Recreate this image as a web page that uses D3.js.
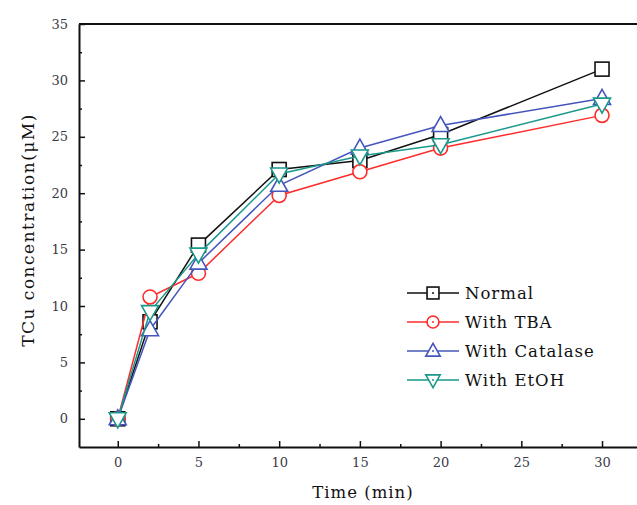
<!DOCTYPE html>
<html>
<head>
<meta charset="utf-8">
<script src="https://cdn.jsdelivr.net/npm/d3@7"></script>
<style>
  html, body { margin: 0; padding: 0; background: #fff; }
  svg { display: block; }
  text { font-family: "DejaVu Serif", "Liberation Serif", serif; }
</style>
</head>
<body>
<svg id="chart" width="637" height="505"></svg>
<script>
// Sampling times (min)
const times = [0, 2, 5, 10, 15, 20, 30];

// TCu concentration (µM) for each condition
const normal   = [0, 8.6, 15.4, 22.1, 22.9, 25.2, 31.0];
const withTBA  = [0, 10.8, 12.9, 19.8, 21.9, 24.0, 26.9];
const withCat  = [0, 7.9, 13.8, 20.7, 24.0, 26.0, 28.4];
const withEtOH = [0, 9.5, 14.6, 21.7, 23.3, 24.3, 27.9];

const seriesNames  = ["Normal", "With TBA", "With Catalase", "With EtOH"];
const seriesColors = ["#111111", "#ff2b2b", "#4456bb", "#1a988a"];
const seriesShapes = ["square", "circle", "triUp", "triDown"];
const seriesValues = [normal, withTBA, withCat, withEtOH];

const xTicks = [0, 5, 10, 15, 20, 25, 30];
const yTicks = [0, 5, 10, 15, 20, 25, 30, 35];

const svg = d3.select("#chart");

const x = d3.scaleLinear().domain([-2.4, 32.6]).range([79, 644]);
const y = d3.scaleLinear().domain([-2.5, 35]).range([447, 24]);

// Frame: top and right edges
svg.append("line").attr("x1", x.range()[0]).attr("x2", x.range()[1])
  .attr("y1", y(35)).attr("y2", y(35)).attr("stroke", "#111").attr("stroke-width", 2);
svg.append("line").attr("x1", x.range()[1]).attr("x2", x.range()[1])
  .attr("y1", y(35)).attr("y2", y(-2.5)).attr("stroke", "#111").attr("stroke-width", 2);

// Bottom axis with inward ticks
const xAxis = svg.append("g").attr("transform", `translate(0,${y(-2.5)})`)
  .call(d3.axisBottom(x).tickValues(xTicks).tickSizeInner(-6).tickSizeOuter(0).tickPadding(11));
// minor ticks
svg.append("g").attr("transform", `translate(0,${y(-2.5)})`)
  .call(d3.axisBottom(x).tickValues([2.5, 7.5, 12.5, 17.5, 22.5, 27.5]).tickSizeInner(-3).tickSizeOuter(0).tickFormat(""))
  .call(g => g.select(".domain").remove());

const yAxis = svg.append("g").attr("transform", `translate(${x(-2.4)},0)`)
  .call(d3.axisLeft(y).tickValues(yTicks).tickSizeInner(-6).tickSizeOuter(0).tickPadding(11));
svg.append("g").attr("transform", `translate(${x(-2.4)},0)`)
  .call(d3.axisLeft(y).tickValues([2.5, 7.5, 12.5, 17.5, 22.5, 27.5, 32.5]).tickSizeInner(-3).tickSizeOuter(0).tickFormat(""))
  .call(g => g.select(".domain").remove());

[xAxis, yAxis].forEach(g => {
  g.attr("font-size", 13).attr("font-family", "'DejaVu Serif', serif");
  g.select(".domain").attr("stroke", "#111").attr("stroke-width", 2);
  g.selectAll(".tick text").attr("fill", "#3a3a48");
});
svg.selectAll("g .tick line").attr("stroke", "#111").attr("stroke-width", 1.5);

// Axis titles
svg.append("text").attr("x", 363).attr("y", 498).attr("text-anchor", "middle")
  .attr("font-size", 16.5).attr("letter-spacing", 1).attr("fill", "#111").text("Time (min)");
svg.append("text").attr("transform", `translate(34,230) rotate(-90)`)
  .attr("text-anchor", "middle").attr("font-size", 17).attr("letter-spacing", 1.5).attr("fill", "#111")
  .text("TCu concentration(μM)");

// Marker drawing
function drawMarker(g, shape, color, cx, cy, k = 1) {
  const s = 7 * k;
  if (shape === "square") {
    g.append("rect").attr("x", cx - s).attr("y", cy - s).attr("width", 2 * s).attr("height", 2 * s)
      .attr("fill", "#fff").attr("stroke", color).attr("stroke-width", 1.6);
  } else if (shape === "circle") {
    g.append("circle").attr("cx", cx).attr("cy", cy).attr("r", s)
      .attr("fill", "#fff").attr("stroke", color).attr("stroke-width", 1.6);
  } else if (shape === "triUp") {
    g.append("path").attr("d", `M${cx},${cy - 9 * k} L${cx + 8.5 * k},${cy + 6 * k} L${cx - 8.5 * k},${cy + 6 * k} Z`)
      .attr("fill", "#fff").attr("stroke", color).attr("stroke-width", 1.6);
  } else {
    g.append("path").attr("d", `M${cx},${cy + 9 * k} L${cx + 8.5 * k},${cy - 6 * k} L${cx - 8.5 * k},${cy - 6 * k} Z`)
      .attr("fill", "#fff").attr("stroke", color).attr("stroke-width", 1.6);
  }
}

const line = d3.line().x(d => x(d[0])).y(d => y(d[1]));

seriesValues.forEach((vals, i) => {
  const pts = times.map((t, j) => [t, vals[j]]);
  const g = svg.append("g");
  g.append("path").datum(pts).attr("d", line).attr("fill", "none")
    .attr("stroke", seriesColors[i]).attr("stroke-width", 1.5);
  pts.forEach(p => drawMarker(g, seriesShapes[i], seriesColors[i], x(p[0]), y(p[1])));
});

// Legend
const legend = svg.append("g");
seriesNames.forEach((name, i) => {
  const ly = 293 + i * 29;
  legend.append("line").attr("x1", 407).attr("x2", 459).attr("y1", ly).attr("y2", ly)
    .attr("stroke", seriesColors[i]).attr("stroke-width", 1.5);
  drawMarker(legend, seriesShapes[i], seriesColors[i], 433, ly, 0.85);
  legend.append("circle").attr("cx", 433).attr("cy", ly).attr("r", 1).attr("fill", seriesColors[i]);
  legend.append("text").attr("x", 465).attr("y", ly + 6).attr("font-size", 16.5).attr("letter-spacing", 1)
    .attr("fill", "#111").text(name);
});
</script>
</body>
</html>
